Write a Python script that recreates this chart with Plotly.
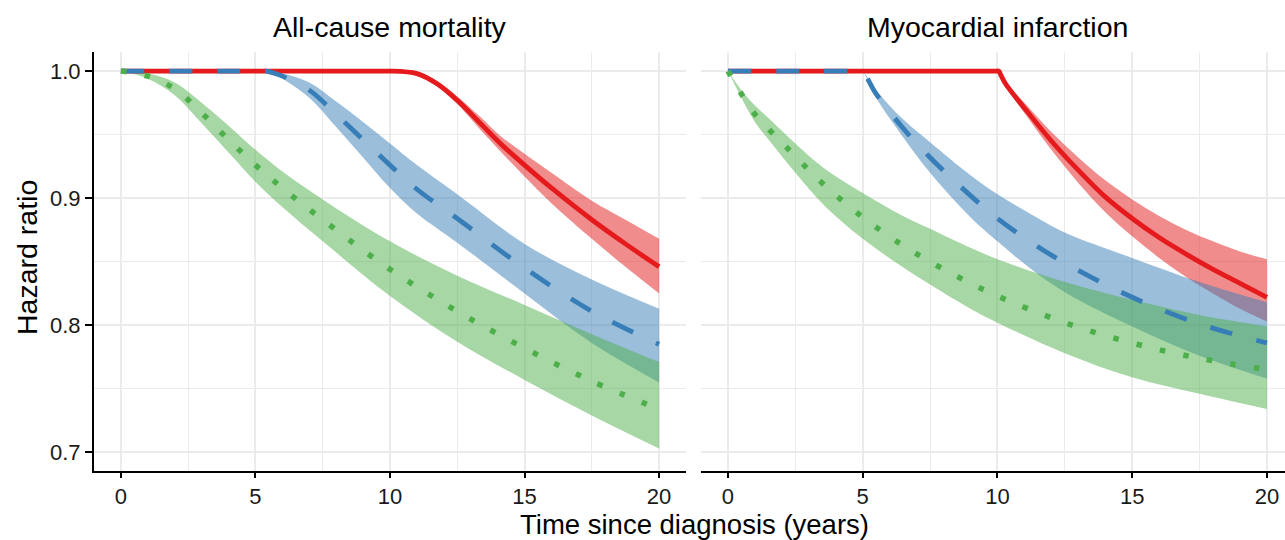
import plotly.graph_objects as go

# ---------------- data: All-cause mortality (left panel) ----------------
acm_red_x = [0, 9.9, 10, 11, 11.75, 12.5, 13.35, 14.1, 15, 16, 17.5, 18.75, 20]
acm_red_y = [1.0, 1.0, 1.0, 0.998, 0.990, 0.977, 0.959, 0.943, 0.926, 0.908, 0.883, 0.864, 0.846]
acm_red_lo = [1.0, 1.0, 1.0, 0.997, 0.988, 0.974, 0.954, 0.937, 0.917, 0.896, 0.868, 0.846, 0.825]
acm_red_hi = [1.0, 1.0, 1.0, 0.999, 0.992, 0.980, 0.964, 0.949, 0.935, 0.920, 0.898, 0.883, 0.868]

acm_blue_x = [0, 5.3, 5.4, 6, 7, 8, 9, 10, 11, 12.5, 15, 17.5, 20]
acm_blue_y = [1.0, 1.0, 1.0, 0.996, 0.985, 0.966, 0.946, 0.926, 0.907, 0.884, 0.845, 0.811, 0.785]
acm_blue_lo = [1.0, 1.0, 1.0, 0.994, 0.979, 0.956, 0.932, 0.908, 0.888, 0.865, 0.825, 0.786, 0.755]
acm_blue_hi = [1.0, 1.0, 1.0, 0.998, 0.991, 0.976, 0.960, 0.943, 0.926, 0.903, 0.864, 0.836, 0.813]

acm_green_x = [0, 1, 2, 3, 4, 5, 6, 7.5, 10, 12.5, 15, 17.5, 20]
acm_green_y = [1.0, 0.996, 0.986, 0.967, 0.946, 0.926, 0.908, 0.883, 0.844, 0.811, 0.782, 0.756, 0.734]
acm_green_lo = [1.0, 0.994, 0.981, 0.959, 0.936, 0.913, 0.893, 0.866, 0.823, 0.787, 0.757, 0.729, 0.703]
acm_green_hi = [1.0, 0.998, 0.991, 0.975, 0.957, 0.938, 0.921, 0.899, 0.866, 0.839, 0.816, 0.793, 0.771]

# ---------------- data: Myocardial infarction (right panel) ----------------
mi_red_x = [0, 9.95, 10.05, 10.1, 10.3, 11, 12, 13, 14, 15, 16, 17, 18, 19, 20]
mi_red_y = [1.0, 1.0, 1.0, 0.998, 0.990, 0.971, 0.945, 0.922, 0.901, 0.884, 0.869, 0.856, 0.844, 0.833, 0.822]
mi_red_lo = [1.0, 1.0, 1.0, 0.998, 0.988, 0.967, 0.938, 0.912, 0.889, 0.870, 0.853, 0.838, 0.825, 0.813, 0.803]
mi_red_hi = [1.0, 1.0, 1.0, 0.998, 0.991, 0.975, 0.952, 0.932, 0.914, 0.899, 0.886, 0.875, 0.866, 0.858, 0.852]

mi_blue_x = [0, 4.95, 5.0, 5.5, 6.5, 7.5, 9, 10, 11.2, 12.5, 15, 17.5, 20]
mi_blue_y = [1.0, 1.0, 1.0, 0.982, 0.955, 0.932, 0.902, 0.884, 0.866, 0.849, 0.822, 0.801, 0.786]
mi_blue_lo = [1.0, 1.0, 1.0, 0.979, 0.948, 0.920, 0.885, 0.866, 0.845, 0.826, 0.799, 0.776, 0.758]
mi_blue_hi = [1.0, 1.0, 1.0, 0.985, 0.962, 0.944, 0.918, 0.903, 0.888, 0.873, 0.853, 0.834, 0.818]

mi_green_x = [0, 0.5, 1, 1.66, 2.5, 3.54, 5, 6.4, 7.5, 9, 10, 12.5, 15, 17.5, 20]
mi_green_y = [1.0, 0.982, 0.966, 0.951, 0.933, 0.911, 0.885, 0.864, 0.850, 0.833, 0.823, 0.802, 0.786, 0.774, 0.765]
mi_green_lo = [1.0, 0.979, 0.960, 0.942, 0.920, 0.895, 0.868, 0.847, 0.832, 0.813, 0.802, 0.778, 0.759, 0.746, 0.734]
mi_green_hi = [1.0, 0.985, 0.973, 0.960, 0.943, 0.924, 0.904, 0.887, 0.876, 0.861, 0.852, 0.834, 0.820, 0.808, 0.799]

panel_titles = ["All-cause mortality", "Myocardial infarction"]
x_tick_vals = [0, 5, 10, 15, 20]
x_minor_vals = [2.5, 7.5, 12.5, 17.5]
y_tick_vals = [0.7, 0.8, 0.9, 1.0]
y_tick_text = ["0.7", "0.8", "0.9", "1.0"]
x_title = "Time since diagnosis (years)"
y_title = "Hazard ratio"

# ---------------- styling ----------------
RED = "#E41A1C"
BLUE = "#377EB8"
GREEN = "#4DAF4A"
FILLS = {RED: "rgba(228,26,28,0.5)", BLUE: "rgba(55,126,184,0.5)", GREEN: "rgba(77,175,74,0.5)"}
DASH = {RED: "solid", BLUE: "23px,25px", GREEN: "5.5px,18.5px"}
WIDTH = {RED: 4.8, BLUE: 4.8, GREEN: 5.5}
FONT = "Liberation Sans, Arial, sans-serif"
GRID = "#EBEBEB"
SMOOTH = 1.0

panels = [
    ("x", "y", [
        (RED, acm_red_x, acm_red_y, acm_red_lo, acm_red_hi),
        (BLUE, acm_blue_x, acm_blue_y, acm_blue_lo, acm_blue_hi),
        (GREEN, acm_green_x, acm_green_y, acm_green_lo, acm_green_hi),
    ]),
    ("x2", "y2", [
        (RED, mi_red_x, mi_red_y, mi_red_lo, mi_red_hi),
        (BLUE, mi_blue_x, mi_blue_y, mi_blue_lo, mi_blue_hi),
        (GREEN, mi_green_x, mi_green_y, mi_green_lo, mi_green_hi),
    ]),
]

fig = go.Figure()
for xa, ya, series in panels:
    for col, xs, ys, lo, hi in series:
        fig.add_trace(go.Scatter(x=xs, y=lo, xaxis=xa, yaxis=ya, mode="lines",
                                 line=dict(width=0, shape="spline", smoothing=SMOOTH),
                                 showlegend=False, hoverinfo="skip"))
        fig.add_trace(go.Scatter(x=xs, y=hi, xaxis=xa, yaxis=ya, mode="lines",
                                 line=dict(width=0, shape="spline", smoothing=SMOOTH),
                                 fill="tonexty", fillcolor=FILLS[col],
                                 showlegend=False, hoverinfo="skip"))
    for col, xs, ys, lo, hi in series:
        fig.add_trace(go.Scatter(x=xs, y=ys, xaxis=xa, yaxis=ya, mode="lines",
                                 line=dict(color=col, width=WIDTH[col], dash=DASH[col],
                                           shape="spline", smoothing=SMOOTH),
                                 showlegend=False))

W, H = 1285, 540
ML, MR, MT, MB = 94, 0, 52, 69
pw = W - ML - MR
ph = H - MT - MB

def px_x(px):
    return (px - ML) / pw

def px_y(py):
    return (H - MB - py) / ph

TICKFONT = dict(family=FONT, size=22, color="#1a1a1a")
TITLEFONT = dict(family=FONT, size=28.5, color="black")
XTITLEFONT = dict(family=FONT, size=27.5, color="black")

common_x = dict(
    tickvals=x_tick_vals, ticks="outside", ticklen=5, tickwidth=2, tickcolor="black",
    showline=True, linecolor="black", linewidth=2,
    showgrid=True, gridcolor=GRID, gridwidth=1.6, zeroline=False,
    minor=dict(tickvals=x_minor_vals, showgrid=True, gridcolor=GRID, gridwidth=1.2, ticks=""),
    tickfont=TICKFONT,
)
common_y = dict(
    range=[0.6853, 1.015], tickvals=y_tick_vals, ticktext=y_tick_text,
    showgrid=True, gridcolor=GRID, gridwidth=1.6, zeroline=False,
    minor=dict(tickvals=[0.75, 0.85, 0.95], showgrid=True, gridcolor=GRID, gridwidth=1.2, ticks=""),
    tickfont=TICKFONT,
)

fig.update_layout(
    width=W, height=H,
    margin=dict(l=ML, r=MR, t=MT, b=MB),
    paper_bgcolor="white", plot_bgcolor="white",
    showlegend=False,
    xaxis=dict(domain=[0, px_x(686)], range=[-1, 21], anchor="y", **common_x),
    xaxis2=dict(domain=[px_x(701), 1.0], range=[-1, 20.67], anchor="y2", **common_x),
    yaxis=dict(domain=[0, 1], anchor="x", ticks="outside", ticklen=7, tickwidth=2,
               tickcolor="black", showline=True, linecolor="black", linewidth=2, **common_y),
    yaxis2=dict(domain=[0, 1], anchor="x2", matches="y", showticklabels=False,
                ticks="", showline=False, **common_y),
    annotations=[
        dict(text=panel_titles[0], xref="paper", yref="paper", x=px_x(390), y=px_y(27),
             xanchor="center", yanchor="middle", showarrow=False, font=TITLEFONT),
        dict(text=panel_titles[1], xref="paper", yref="paper", x=px_x(997), y=px_y(27),
             xanchor="center", yanchor="middle", showarrow=False, font=TITLEFONT),
        dict(text=x_title, xref="paper", yref="paper", x=px_x(694), y=px_y(524.5),
             xanchor="center", yanchor="middle", showarrow=False, font=XTITLEFONT),
        dict(text=y_title, xref="paper", yref="paper", x=px_x(27), y=px_y(258),
             xanchor="center", yanchor="middle", showarrow=False, textangle=-90,
             font=TITLEFONT),
    ],
)

fig.write_html("out.html", config={"displayModeBar": False},
               post_script="document.body.style.margin='0';document.body.style.overflow='hidden';")
